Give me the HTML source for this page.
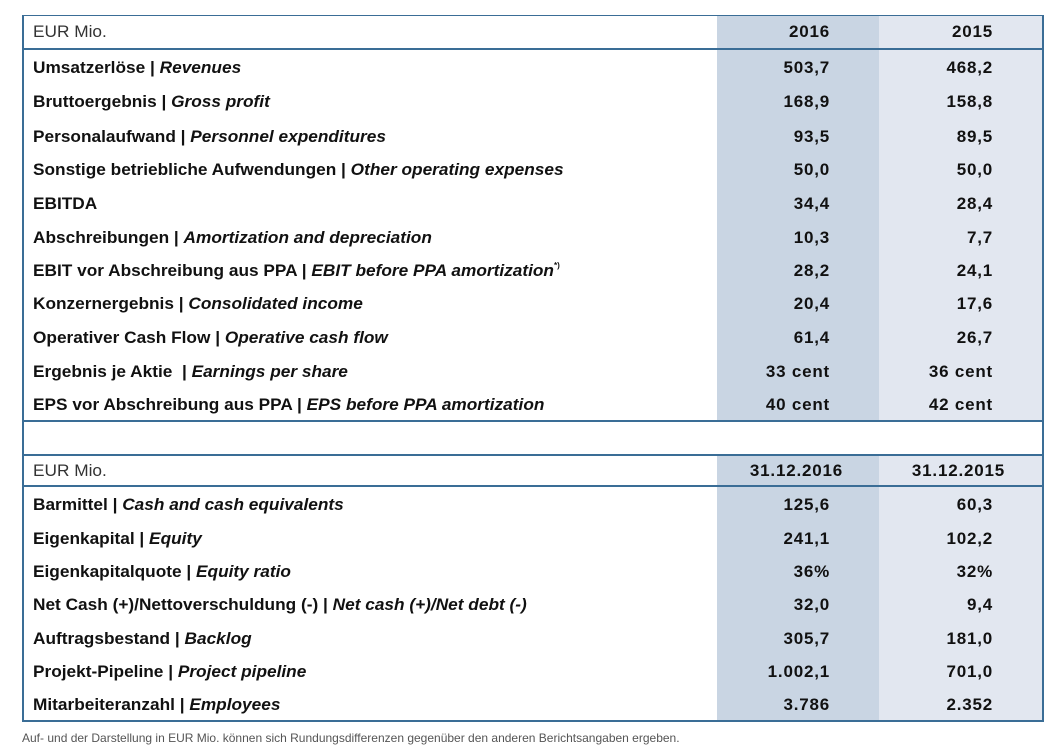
<!DOCTYPE html>
<html><head><meta charset="utf-8"><style>
body{margin:0;width:1061px;height:736px;background:#fff;position:relative;overflow:hidden;font-family:"Liberation Sans",sans-serif;color:#111}
.c1{position:absolute;left:717px;width:162px;background:#c9d5e3}
.c2{position:absolute;left:879px;width:163px;background:#e2e7f0}
.hl{position:absolute;left:22px;width:1020px;height:2px;background:#3a6d96}
.t{position:absolute;font-size:17px;font-weight:bold;line-height:20px;white-space:nowrap;transform:scaleX(1.015);transform-origin:left center}
.n{position:absolute;font-size:17px;font-weight:bold;line-height:20px;white-space:nowrap;text-align:right;width:150px;letter-spacing:0.8px}
.h{font-weight:normal;color:#333}
sup{font-size:8px;line-height:0;vertical-align:8px}
</style></head><body>
<div class="c1" style="top:15px;height:406px"></div>
<div class="c2" style="top:15px;height:406px"></div>
<div class="c1" style="top:455px;height:265px"></div>
<div class="c2" style="top:455px;height:265px"></div>
<div style="position:absolute;left:22px;top:15px;width:1018px;height:704px;border:2px solid #3a6d96;border-top-width:1.5px"></div>
<div class="hl" style="top:48px"></div>
<div class="hl" style="top:420px"></div>
<div class="hl" style="top:454px"></div>
<div class="hl" style="top:485px"></div>

<div class="t h" style="left:33px;top:22px;font-weight:normal">EUR Mio.</div>
<div class="n" style="left:680px;top:22px">2016</div>
<div class="n" style="left:843px;top:22px">2015</div>

<div class="t" style="left:33px;top:58px">Umsatzerlöse | <i>Revenues</i></div>
<div class="n" style="left:680px;top:58px">503,7</div><div class="n" style="left:843px;top:58px">468,2</div>
<div class="t" style="left:33px;top:92px">Bruttoergebnis | <i>Gross profit</i></div>
<div class="n" style="left:680px;top:92px">168,9</div><div class="n" style="left:843px;top:92px">158,8</div>
<div class="t" style="left:33px;top:127px">Personalaufwand | <i>Personnel expenditures</i></div>
<div class="n" style="left:680px;top:127px">93,5</div><div class="n" style="left:843px;top:127px">89,5</div>
<div class="t" style="left:33px;top:160px">Sonstige betriebliche Aufwendungen | <i>Other operating expenses</i></div>
<div class="n" style="left:680px;top:160px">50,0</div><div class="n" style="left:843px;top:160px">50,0</div>
<div class="t" style="left:33px;top:194px">EBITDA</div>
<div class="n" style="left:680px;top:194px">34,4</div><div class="n" style="left:843px;top:194px">28,4</div>
<div class="t" style="left:33px;top:228px">Abschreibungen | <i>Amortization and depreciation</i></div>
<div class="n" style="left:680px;top:228px">10,3</div><div class="n" style="left:843px;top:228px">7,7</div>
<div class="t" style="left:33px;top:261px">EBIT vor Abschreibung aus PPA | <i>EBIT before PPA amortization</i><sup>*)</sup></div>
<div class="n" style="left:680px;top:261px">28,2</div><div class="n" style="left:843px;top:261px">24,1</div>
<div class="t" style="left:33px;top:294px">Konzernergebnis | <i>Consolidated income</i></div>
<div class="n" style="left:680px;top:294px">20,4</div><div class="n" style="left:843px;top:294px">17,6</div>
<div class="t" style="left:33px;top:328px">Operativer Cash Flow | <i>Operative cash flow</i></div>
<div class="n" style="left:680px;top:328px">61,4</div><div class="n" style="left:843px;top:328px">26,7</div>
<div class="t" style="left:33px;top:362px">Ergebnis je Aktie &nbsp;| <i>Earnings per share</i></div>
<div class="n" style="left:680px;top:362px">33 cent</div><div class="n" style="left:843px;top:362px">36 cent</div>
<div class="t" style="left:33px;top:395px">EPS vor Abschreibung aus PPA | <i>EPS before PPA amortization</i></div>
<div class="n" style="left:680px;top:395px">40 cent</div><div class="n" style="left:843px;top:395px">42 cent</div>

<div class="t h" style="left:33px;top:461px;font-weight:normal">EUR Mio.</div>
<div class="n" style="left:693px;top:461px">31.12.2016</div>
<div class="n" style="left:855px;top:461px">31.12.2015</div>

<div class="t" style="left:33px;top:495px">Barmittel | <i>Cash and cash equivalents</i></div>
<div class="n" style="left:680px;top:495px">125,6</div><div class="n" style="left:843px;top:495px">60,3</div>
<div class="t" style="left:33px;top:529px">Eigenkapital | <i>Equity</i></div>
<div class="n" style="left:680px;top:529px">241,1</div><div class="n" style="left:843px;top:529px">102,2</div>
<div class="t" style="left:33px;top:562px">Eigenkapitalquote | <i>Equity ratio</i></div>
<div class="n" style="left:680px;top:562px">36%</div><div class="n" style="left:843px;top:562px">32%</div>
<div class="t" style="left:33px;top:595px">Net Cash (+)/Nettoverschuldung (-) | <i>Net cash (+)/Net debt (-)</i></div>
<div class="n" style="left:680px;top:595px">32,0</div><div class="n" style="left:843px;top:595px">9,4</div>
<div class="t" style="left:33px;top:629px">Auftragsbestand | <i>Backlog</i></div>
<div class="n" style="left:680px;top:629px">305,7</div><div class="n" style="left:843px;top:629px">181,0</div>
<div class="t" style="left:33px;top:662px">Projekt-Pipeline | <i>Project pipeline</i></div>
<div class="n" style="left:680px;top:662px">1.002,1</div><div class="n" style="left:843px;top:662px">701,0</div>
<div class="t" style="left:33px;top:695px">Mitarbeiteranzahl | <i>Employees</i></div>
<div class="n" style="left:680px;top:695px">3.786</div><div class="n" style="left:843px;top:695px">2.352</div>

<div style="position:absolute;left:22px;top:731px;font-size:12px;color:#555;white-space:nowrap">Auf- und der Darstellung in EUR Mio. können sich Rundungsdifferenzen gegenüber den anderen Berichtsangaben ergeben.</div>
</body></html>
